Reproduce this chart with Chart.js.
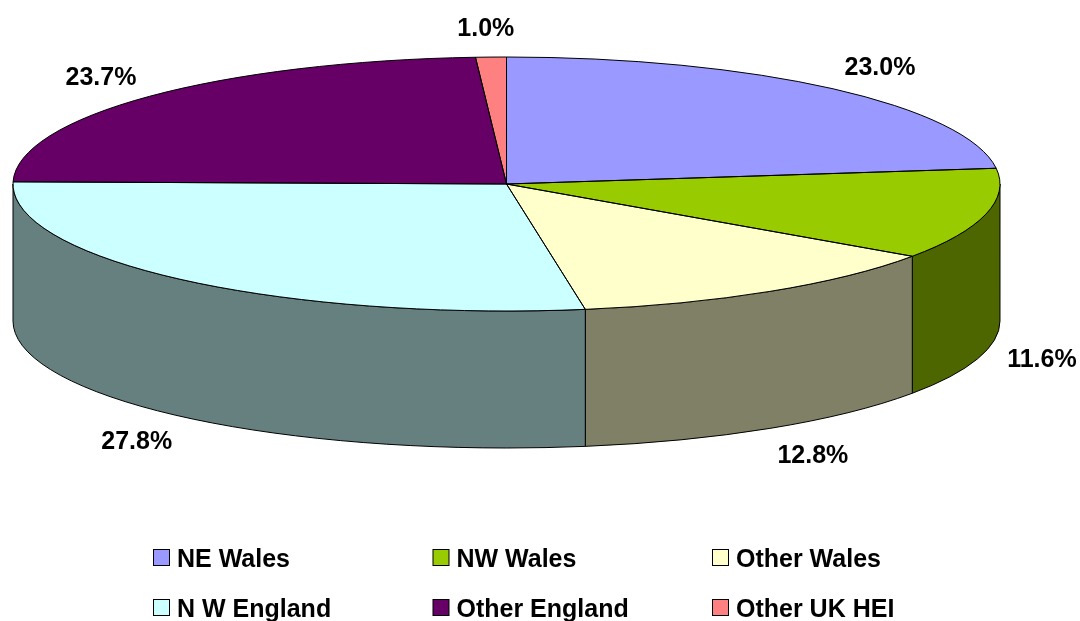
<!DOCTYPE html>
<html>
<head>
<meta charset="utf-8">
<script src="https://cdn.jsdelivr.net/npm/chart.js@4.4.1/dist/chart.umd.min.js"></script>
<style>
  html, body { margin: 0; padding: 0; background: #ffffff; }
  #wrap { width: 1080px; height: 621px; position: relative; }
</style>
</head>
<body>
<div id="wrap"><canvas id="c" width="1080" height="621"></canvas></div>
<script>
// ---- data ----
const categories = ['NE Wales', 'NW Wales', 'Other Wales', 'N W England', 'Other England', 'Other UK HEI'];
const shares = [23.0, 11.6, 12.8, 27.8, 23.7, 1.0];
const topColors = ['#9999FF', '#99CC00', '#FFFFCC', '#CCFFFF', '#660066', '#FF8080'];
const sideColors = ['#4D4D80', '#4D6600', '#808066', '#668080', '#330033', '#804040'];

const FONT = 'bold 25px "Liberation Sans", Arial, sans-serif';

const pie3d = {
  id: 'pie3d',
  beforeDatasetsDraw(chart, args, o) {
    const ctx = chart.ctx;
    const arcs = chart.getDatasetMeta(0).data;
    const { cx, cy, rx, ry, depth } = o;
    ctx.save();
    ctx.lineWidth = 1;
    ctx.strokeStyle = '#000';
    arcs.forEach((arc, i) => {
      const p = arc.getProps(['startAngle', 'endAngle'], true);
      for (let k = -1; k <= 1; k++) {
        const lo = Math.max(p.startAngle, 2 * Math.PI * k);
        const hi = Math.min(p.endAngle, 2 * Math.PI * k + Math.PI);
        if (hi - lo <= 1e-6) continue;
        ctx.beginPath();
        ctx.ellipse(cx, cy, rx, ry, 0, lo, hi, false);
        ctx.lineTo(cx + rx * Math.cos(hi), cy + ry * Math.sin(hi) + depth);
        ctx.ellipse(cx, cy + depth, rx, ry, 0, hi, lo, true);
        ctx.closePath();
        ctx.fillStyle = sideColors[i];
        ctx.fill();
        ctx.stroke();
      }
    });
    ctx.restore();
    // map the library's circular pie onto the ellipse top face
    const a0 = arcs[0];
    const g = a0.getProps(['x', 'y', 'outerRadius'], true);
    ctx.save();
    ctx.translate(cx, cy);
    ctx.scale(rx / g.outerRadius, ry / g.outerRadius);
    ctx.translate(-g.x, -g.y);
  },
  afterDatasetsDraw(chart, args, o) {
    const ctx = chart.ctx;
    ctx.restore();
    const arcs = chart.getDatasetMeta(0).data;
    const { cx, cy, rx, ry, depth } = o;
    const total = shares.reduce((a, b) => a + b, 0);
    ctx.save();
    ctx.lineWidth = 1;
    ctx.strokeStyle = '#000';
    arcs.forEach((arc) => {
      const p = arc.getProps(['startAngle', 'endAngle'], true);
      ctx.beginPath();
      ctx.moveTo(cx, cy);
      ctx.lineTo(cx + rx * Math.cos(p.startAngle), cy + ry * Math.sin(p.startAngle));
      ctx.ellipse(cx, cy, rx, ry, 0, p.startAngle, p.endAngle, false);
      ctx.closePath();
      ctx.stroke();
    });
    // percentage labels
    ctx.font = FONT;
    ctx.fillStyle = '#000';
    ctx.textAlign = 'center';
    ctx.textBaseline = 'alphabetic';
    arcs.forEach((arc, i) => {
      const p = arc.getProps(['startAngle', 'endAngle'], true);
      const m = (p.startAngle + p.endAngle) / 2;
      const c = Math.cos(m), s = Math.sin(m);
      const ax = cx + rx * c;
      const ay = cy + ry * s + (s > 0 ? depth : 0);
      const dx = 30 * c + 27 * Math.sign(c) * Math.min(1, 5 * Math.abs(c));
      const dy = 30 * s;
      const txt = (shares[i] / total * 100).toFixed(1) + '%';
      ctx.fillText(txt, ax + dx, ay + dy + 9);
    });
    // legend
    categories.forEach((name, i) => {
      const col = i % 3, row = Math.floor(i / 3);
      const x = o.legX + col * o.legColW;
      const y = o.legY + row * o.legRowH;
      ctx.fillStyle = topColors[i];
      ctx.fillRect(x + 0.5, y + 0.5, 16, 16);
      ctx.strokeRect(x + 0.5, y + 0.5, 16, 16);
      ctx.fillStyle = '#000';
      ctx.textAlign = 'left';
      ctx.fillText(name, x + 24, y + 18);
    });
    ctx.restore();
  }
};

new Chart(document.getElementById('c'), {
  type: 'pie',
  data: {
    labels: categories,
    datasets: [{
      data: shares,
      backgroundColor: topColors,
      borderWidth: 0,
      hoverOffset: 0,
      clip: false
    }]
  },
  options: {
    responsive: false,
    animation: false,
    events: [],
    devicePixelRatio: 1,
    layout: { padding: 20 },
    plugins: {
      legend: { display: false },
      tooltip: { enabled: false },
      pie3d: { cx: 506.5, cy: 184, rx: 493.5, ry: 127, depth: 137,
               legX: 153, legY: 549, legColW: 279.5, legRowH: 50 }
    }
  },
  plugins: [pie3d]
});
</script>
</body>
</html>
